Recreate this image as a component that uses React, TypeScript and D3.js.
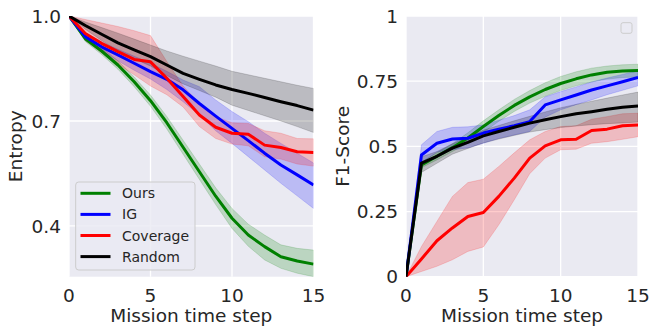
import React from 'react';
import * as d3 from 'd3';

const steps = [0, 1, 2, 3, 4, 5, 6, 7, 8, 9, 10, 11, 12, 13, 14, 15];
const seriesNames = ['Ours', 'IG', 'Coverage', 'Random'];
const seriesColors = ['#008000', '#0000ff', '#ff0000', '#000000'];

// Entropy panel
const entropyOurs = [1.0, 0.935, 0.9, 0.86, 0.812, 0.758, 0.695, 0.625, 0.555, 0.485, 0.422, 0.374, 0.341, 0.312, 0.3, 0.291];
const entropyOursLo = [1.0, 0.927, 0.89, 0.848, 0.798, 0.742, 0.677, 0.605, 0.533, 0.461, 0.393, 0.342, 0.303, 0.279, 0.265, 0.255];
const entropyOursHi = [1.0, 0.943, 0.91, 0.872, 0.826, 0.774, 0.713, 0.645, 0.577, 0.509, 0.45, 0.405, 0.374, 0.346, 0.336, 0.331];
const entropyIG = [1.0, 0.941, 0.912, 0.889, 0.865, 0.841, 0.819, 0.789, 0.75, 0.714, 0.679, 0.644, 0.608, 0.574, 0.546, 0.517];
const entropyIGLo = [1.0, 0.93, 0.9, 0.872, 0.845, 0.82, 0.79, 0.755, 0.717, 0.672, 0.636, 0.598, 0.56, 0.522, 0.486, 0.45];
const entropyIGHi = [1.0, 0.952, 0.926, 0.905, 0.885, 0.865, 0.842, 0.817, 0.798, 0.76, 0.727, 0.698, 0.665, 0.636, 0.608, 0.58];
const entropyCov = [1.0, 0.95, 0.922, 0.898, 0.876, 0.869, 0.822, 0.77, 0.717, 0.682, 0.665, 0.662, 0.631, 0.624, 0.612, 0.61];
const entropyCovLo = [1.0, 0.93, 0.895, 0.862, 0.832, 0.8, 0.775, 0.74, 0.684, 0.65, 0.634, 0.629, 0.598, 0.591, 0.577, 0.571];
const entropyCovHi = [1.0, 0.99, 0.98, 0.97, 0.958, 0.944, 0.87, 0.8, 0.75, 0.712, 0.695, 0.693, 0.672, 0.665, 0.65, 0.649];
const entropyRand = [1.0, 0.973, 0.948, 0.923, 0.903, 0.884, 0.86, 0.836, 0.819, 0.803, 0.79, 0.779, 0.767, 0.755, 0.744, 0.731];
const entropyRandLo = [1.0, 0.962, 0.93, 0.9, 0.878, 0.857, 0.83, 0.806, 0.787, 0.768, 0.745, 0.73, 0.715, 0.7, 0.684, 0.667];
const entropyRandHi = [1.0, 0.983, 0.967, 0.951, 0.934, 0.917, 0.9, 0.885, 0.871, 0.857, 0.842, 0.832, 0.822, 0.812, 0.802, 0.793];

// F1 panel
const f1Ours = [0, 0.429, 0.462, 0.495, 0.532, 0.576, 0.618, 0.657, 0.69, 0.718, 0.741, 0.759, 0.774, 0.784, 0.789, 0.791];
const f1OursLo = [0, 0.418, 0.448, 0.48, 0.512, 0.554, 0.596, 0.634, 0.666, 0.692, 0.714, 0.732, 0.747, 0.758, 0.764, 0.766];
const f1OursHi = [0, 0.44, 0.476, 0.51, 0.552, 0.598, 0.64, 0.68, 0.714, 0.744, 0.768, 0.786, 0.8, 0.808, 0.813, 0.815];
const f1IG = [0, 0.467, 0.512, 0.528, 0.531, 0.551, 0.566, 0.579, 0.595, 0.659, 0.678, 0.697, 0.716, 0.732, 0.748, 0.764];
const f1IGLo = [0, 0.436, 0.478, 0.487, 0.494, 0.512, 0.53, 0.544, 0.557, 0.612, 0.64, 0.66, 0.678, 0.698, 0.715, 0.732];
const f1IGHi = [0, 0.506, 0.557, 0.573, 0.575, 0.582, 0.6, 0.618, 0.64, 0.69, 0.71, 0.728, 0.747, 0.762, 0.776, 0.79];
const f1Cov = [0, 0.068, 0.138, 0.187, 0.231, 0.246, 0.308, 0.378, 0.455, 0.502, 0.525, 0.527, 0.561, 0.566, 0.579, 0.582];
const f1CovLo = [0, 0.02, 0.04, 0.065, 0.097, 0.114, 0.199, 0.295, 0.395, 0.455, 0.487, 0.489, 0.512, 0.518, 0.527, 0.537];
const f1CovHi = [0, 0.116, 0.212, 0.308, 0.361, 0.374, 0.423, 0.475, 0.525, 0.557, 0.576, 0.579, 0.604, 0.614, 0.625, 0.627];
const f1Rand = [0, 0.436, 0.462, 0.493, 0.515, 0.54, 0.557, 0.573, 0.589, 0.602, 0.614, 0.625, 0.633, 0.642, 0.65, 0.655];
const f1RandLo = [0, 0.4, 0.435, 0.47, 0.492, 0.513, 0.528, 0.542, 0.555, 0.564, 0.572, 0.578, 0.583, 0.587, 0.59, 0.593];
const f1RandHi = [0, 0.46, 0.48, 0.51, 0.535, 0.562, 0.58, 0.598, 0.615, 0.632, 0.648, 0.661, 0.673, 0.685, 0.697, 0.708];

const xTicks = [0, 5, 10, 15];
const entropyTicks = [0.4, 0.7, 1.0];
const entropyTickLabels = ['0.4', '0.7', '1.0'];
const f1Ticks = [0, 0.25, 0.5, 0.75, 1];
const f1TickLabels = ['0', '0.25', '0.5', '0.75', '1'];

const FONT = 'DejaVu Sans, sans-serif';
const TEXT = '#262626';
const BG = '#EAEAF2';

type Series = { name: string; color: string; mean: number[]; lo: number[]; hi: number[] };

const entropySeries: Series[] = [
  { name: seriesNames[0], color: seriesColors[0], mean: entropyOurs, lo: entropyOursLo, hi: entropyOursHi },
  { name: seriesNames[1], color: seriesColors[1], mean: entropyIG, lo: entropyIGLo, hi: entropyIGHi },
  { name: seriesNames[2], color: seriesColors[2], mean: entropyCov, lo: entropyCovLo, hi: entropyCovHi },
  { name: seriesNames[3], color: seriesColors[3], mean: entropyRand, lo: entropyRandLo, hi: entropyRandHi },
];
const f1Series: Series[] = [
  { name: seriesNames[0], color: seriesColors[0], mean: f1Ours, lo: f1OursLo, hi: f1OursHi },
  { name: seriesNames[1], color: seriesColors[1], mean: f1IG, lo: f1IGLo, hi: f1IGHi },
  { name: seriesNames[2], color: seriesColors[2], mean: f1Cov, lo: f1CovLo, hi: f1CovHi },
  { name: seriesNames[3], color: seriesColors[3], mean: f1Rand, lo: f1RandLo, hi: f1RandHi },
];

type PanelProps = {
  id: string;
  left: number; right: number; top: number; bottom: number;
  yDomain: [number, number];
  yTicks: number[]; yTickLabels: string[];
  yLabel: string; yLabelX: number;
  series: Series[];
  legend: 'full' | 'empty';
};

function Panel(p: PanelProps) {
  const x = d3.scaleLinear().domain([0, 15]).range([p.left, p.right]);
  const y = d3.scaleLinear().domain(p.yDomain).range([p.bottom, p.top]);
  const line = d3.line<number>().x((_, i) => x(steps[i])).y((d) => y(d));
  const area = (s: Series) =>
    d3.area<number>().x((_, i) => x(steps[i])).y0((_, i) => y(s.lo[i])).y1((_, i) => y(s.hi[i]))(s.mean);
  const fs = 18.5;
  const cx = (p.left + p.right) / 2;
  const cy = (p.top + p.bottom) / 2;
  return (
    <g>
      <defs>
        <clipPath id={p.id}>
          <rect x={p.left} y={p.top} width={p.right - p.left} height={p.bottom - p.top} />
        </clipPath>
      </defs>
      <rect x={p.left} y={p.top} width={p.right - p.left} height={p.bottom - p.top} fill={BG} />
      {xTicks.map((t) => (
        <line key={'gx' + t} x1={x(t)} x2={x(t)} y1={p.top} y2={p.bottom} stroke="#fff" strokeWidth={1.3} />
      ))}
      {p.yTicks.map((t) => (
        <line key={'gy' + t} x1={p.left} x2={p.right} y1={y(t)} y2={y(t)} stroke="#fff" strokeWidth={1.3} />
      ))}
      <g clipPath={`url(#${p.id})`}>
        {p.series.map((s) => (
          <path key={'a' + s.name} d={area(s) || ''} fill={s.color} fillOpacity={0.2} stroke={s.color} strokeOpacity={0.2} strokeWidth={0.8} />
        ))}
        {p.series.map((s) => (
          <path key={'l' + s.name} d={line(s.mean) || ''} fill="none" stroke={s.color} strokeWidth={3} strokeLinejoin="round" />
        ))}
      </g>
      {xTicks.map((t) => (
        <text key={'tx' + t} x={x(t)} y={302} textAnchor="middle" fontSize={fs} fill={TEXT} fontFamily={FONT}>{String(t)}</text>
      ))}
      {p.yTicks.map((t, i) => (
        <text key={'ty' + t} x={p.left - 8} y={y(t) + fs * 0.36} textAnchor="end" fontSize={fs} fill={TEXT} fontFamily={FONT}>{p.yTickLabels[i]}</text>
      ))}
      <text x={cx} y={321.5} textAnchor="middle" fontSize={fs} fill={TEXT} fontFamily={FONT}>Mission time step</text>
      <text transform={`translate(${p.yLabelX},${cy}) rotate(-90)`} textAnchor="middle" fontSize={fs} fill={TEXT} fontFamily={FONT}>{p.yLabel}</text>
      {p.legend === 'full' ? (
        <g>
          <rect x={75.7} y={182} width={119.3} height={88} rx={3} fill={BG} fillOpacity={0.8} stroke="#cccccc" strokeWidth={1} />
          {p.series.map((s, i) => {
            const ly = 193.3 + i * 21.1;
            return (
              <g key={'lg' + s.name}>
                <line x1={80.5} x2={110.5} y1={ly} y2={ly} stroke={s.color} strokeWidth={3} />
                <text x={122} y={ly + 5} fontSize={14} fill={TEXT} fontFamily={FONT}>{s.name}</text>
              </g>
            );
          })}
        </g>
      ) : (
        <rect x={621} y={22.7} width={11} height={10.6} rx={2} fill={BG} fillOpacity={0.8} stroke="#cccccc" strokeWidth={1} />
      )}
    </g>
  );
}

export default function App() {
  return (
    <svg width={652} height={328} style={{ position: 'absolute', left: 0, top: 0, background: '#fff' }}>
      <Panel id="clipL" left={69} right={313.5} top={16} bottom={276.7} yDomain={[0.255, 1]}
        yTicks={entropyTicks} yTickLabels={entropyTickLabels} yLabel="Entropy" yLabelX={22}
        series={entropySeries} legend="full" />
      <Panel id="clipR" left={406} right={638} top={16} bottom={276.7} yDomain={[0, 1]}
        yTicks={f1Ticks} yTickLabels={f1TickLabels} yLabel="F1-Score" yLabelX={348.5}
        series={f1Series} legend="empty" />
    </svg>
  );
}
